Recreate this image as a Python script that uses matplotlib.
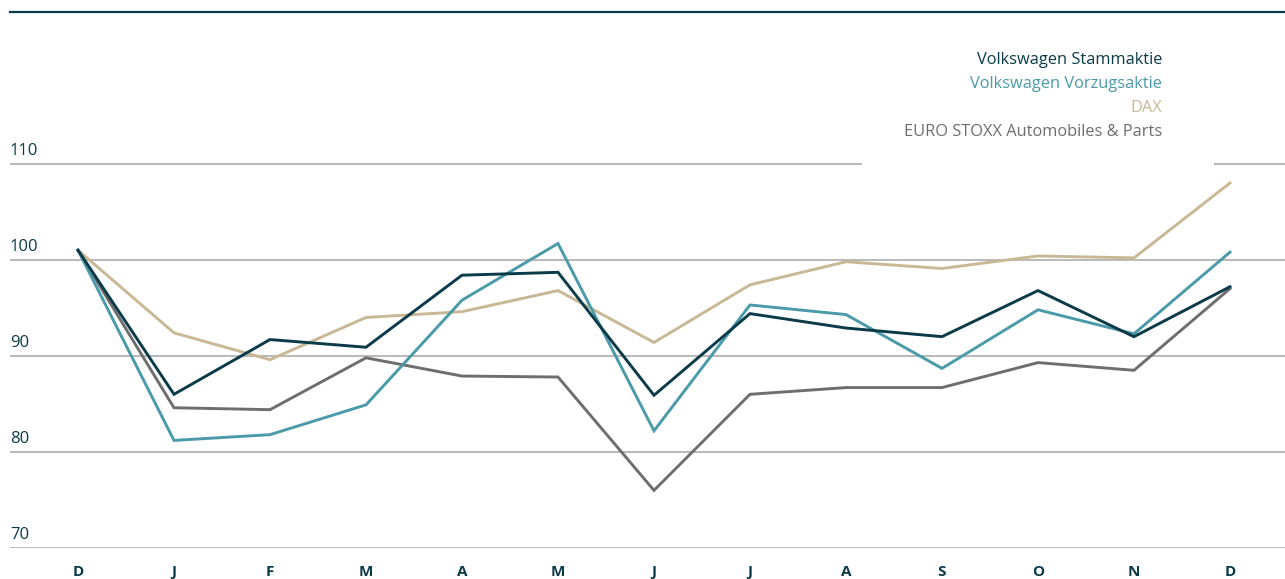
import numpy as np
import matplotlib.pyplot as plt
from matplotlib.patches import Rectangle
import matplotlib.transforms as mtransforms

plt.rcParams['font.family'] = ['Open Sans', 'DejaVu Sans']

# Month labels (Dec to Dec)
months = ['D', 'J', 'F', 'M', 'A', 'M', 'J', 'J', 'A', 'S', 'O', 'N', 'D']

# Indexed values
stamm = [101.0, 86.0, 91.7, 90.9, 98.4, 98.7, 85.9, 94.4, 92.9, 92.0, 96.8, 92.0, 97.2]
vorzug = [101.0, 81.2, 81.8, 84.9, 95.8, 101.7, 82.2, 95.3, 94.3, 88.7, 94.8, 92.3, 100.8]
dax = [101.0, 92.4, 89.6, 94.0, 94.6, 96.8, 91.4, 97.4, 99.8, 99.1, 100.4, 100.2, 108.0]
stoxx = [101.0, 84.6, 84.4, 89.8, 87.9, 87.8, 76.0, 86.0, 86.7, 86.7, 89.3, 88.5, 97.0]

series_names = ['Volkswagen Stammaktie', 'Volkswagen Vorzugsaktie', 'DAX',
                'EURO STOXX Automobiles & Parts']
colors = ['#0b3a48', '#4a9aaa', '#c9b896', '#6e6e6e']
yticks = [70, 80, 90, 100, 110]

fig = plt.figure(figsize=(12.85, 5.79), dpi=100)
ax = fig.add_axes([10 / 1285, 1 - 548 / 579, 1 - 10 / 1285, (548 - 12) / 579])

x = np.arange(len(months))
ax.set_xlim(-68 / 96, 12 + 55 / 96)
ax.set_ylim(70, 125.8)

for t in yticks:
    ax.axhline(t, color='#a5a5a5', lw=1.1, zorder=1)

# white box behind legend interrupts the 110 gridline
trans_fx = mtransforms.blended_transform_factory(fig.transFigure, ax.transData)
ax.add_patch(Rectangle((862 / 1285, 108), (1214 - 862) / 1285, 4, transform=trans_fx,
                       facecolor='white', edgecolor='none', zorder=2))

data = [stoxx, dax, vorzug, stamm]
cols = [colors[3], colors[2], colors[1], colors[0]]
for vals, c in zip(data, cols):
    ax.plot(x, vals, color=c, lw=2.1, zorder=3, solid_joinstyle='miter')

for s in ['left', 'right', 'bottom']:
    ax.spines[s].set_visible(False)
ax.spines['top'].set_color('#0b3a48')
ax.spines['top'].set_linewidth(1.6)

ax.set_yticks([])
ax.set_xticks(x)
ax.set_xticklabels(months, fontweight='bold', color='#0b3a48', fontsize=11)
ax.tick_params(axis='x', length=0, pad=12)

ytrans = mtransforms.blended_transform_factory(ax.transAxes, ax.transData)
for t in yticks:
    ax.text(0.0, t + 0.5, str(t), transform=ytrans, ha='left', va='bottom',
            color='#0b3a48', fontsize=12)

for i, (name, c) in enumerate(zip(series_names, colors)):
    fig.text(1162 / 1285, 1 - (60 + 24 * i) / 579, name, color=c, ha='right',
             va='center', fontsize=11.8)

fig.savefig('out.png', dpi=100)
